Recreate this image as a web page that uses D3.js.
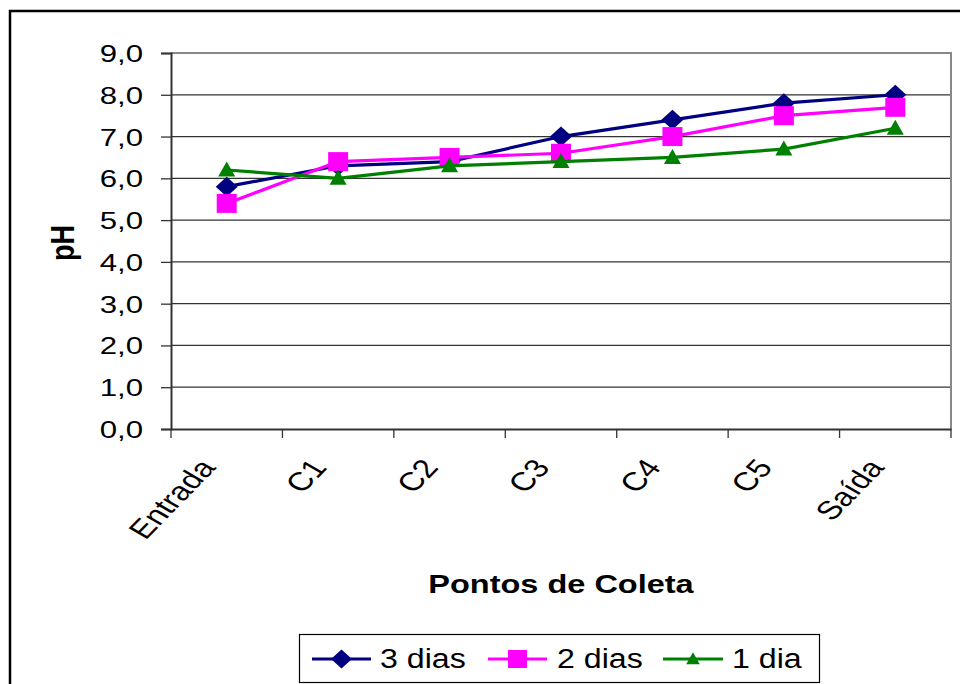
<!DOCTYPE html>
<html><head><meta charset="utf-8">
<script src="https://cdn.jsdelivr.net/npm/d3@7"></script>
<style>body{margin:0;background:#fff}svg{display:block}text{font-family:"Liberation Sans",Arial,sans-serif;fill:#000}</style>
</head><body><svg id="c" width="960" height="684"></svg>
<script>
const categories = ["Entrada","C1","C2","C3","C4","C5","Saída"];
const dias3 = [5.8,6.3,6.4,7.0,7.4,7.8,8.0];
const dias2 = [5.4,6.4,6.5,6.6,7.0,7.5,7.7];
const dia1  = [6.2,6.0,6.3,6.4,6.5,6.7,7.2];
const seriesNames = ["3 dias","2 dias","1 dia"];
const yTicks = [0,1,2,3,4,5,6,7,8,9];
const yTitle = "pH";
const xTitle = "Pontos de Coleta";

const SX = 1.3;
const svg = d3.select("#c");
svg.append("rect").attr("width",960).attr("height",684).attr("fill","#fff");
svg.append("rect").attr("x",10).attr("y",11).attr("width",980).attr("height",700)
  .attr("fill","none").attr("stroke","#000").attr("stroke-width",2.5);

const L=171,R=951,T=53,B=429;
const x = d3.scaleBand().domain(categories).range([L,R]).padding(0);
const y = d3.scaleLinear().domain([0,9]).range([B,T]);
const cx = c => x(c)+x.bandwidth()/2;

// gridlines
svg.append("g").selectAll("line").data(yTicks.filter(d=>d>0&&d<9)).join("line")
  .attr("x1",L).attr("x2",R).attr("y1",d=>y(d)).attr("y2",d=>y(d))
  .attr("stroke","#333").attr("stroke-width",1.3);
// plot border top/right
svg.append("path").attr("d",`M${L},${y(9)}H${R}V${B}`).attr("fill","none")
  .attr("stroke","#888").attr("stroke-width",2);

// y axis
const ya = svg.append("g").attr("transform",`translate(${L},0)`)
  .call(d3.axisLeft(y).tickValues(yTicks).tickSize(10).tickPadding(0)
    .tickFormat(d=>d.toFixed(1).replace(".",",")));
ya.select(".domain").attr("stroke","#333").attr("stroke-width",2);
ya.selectAll(".tick line").attr("stroke","#333").attr("stroke-width",1.3);
ya.selectAll(".tick text").attr("x",0).attr("dy",null).attr("dominant-baseline",null)
  .attr("font-size",24).attr("text-anchor","end")
  .attr("transform",`translate(-28,8.5) scale(${SX},1)`);

// x axis
const xa = svg.append("g").attr("transform",`translate(0,${B})`)
  .call(d3.axisBottom(x).tickSize(0).tickPadding(0));
xa.select(".domain").attr("stroke","#333").attr("stroke-width",2);
xa.selectAll(".tick text").attr("y",0).attr("dy",null).attr("font-size",26)
  .attr("text-anchor","end")
  .attr("transform",`translate(-10,39) scale(${SX},1) rotate(-53)`);
svg.append("g").selectAll("line").data([...categories.map(c=>x(c)),R]).join("line")
  .attr("x1",d=>d).attr("x2",d=>d).attr("y1",B).attr("y2",B+9)
  .attr("stroke","#333").attr("stroke-width",1.3);

// titles
svg.append("text").attr("font-size",25).attr("font-weight","bold").attr("text-anchor","middle")
  .attr("transform",`translate(561,593) scale(${SX},1)`).text(xTitle);
svg.append("text").attr("font-size",27).attr("font-weight","bold").attr("text-anchor","middle")
  .attr("transform",`translate(74,243) scale(1.2,1) rotate(-90)`).text(yTitle);

// series
const colors = ["#000080","#FF00FF","#008000"];
const data = [dias3,dias2,dia1];
const shapes = [
  s=>`M0,${-10*s}L${11*s},0L0,${10*s}L${-11*s},0Z`,
  s=>`M${-10*s},${-9.5*s}H${10*s}V${9.5*s}H${-10*s}Z`,
  s=>`M0,${-8.5*s}L${8.5*s},${6.5*s}L${-8.5*s},${6.5*s}Z`
];
const line = d3.line().x((d,i)=>cx(categories[i])).y(d=>y(d));
data.forEach((vals,k)=>{
  const g = svg.append("g");
  g.append("path").datum(vals).attr("d",line).attr("fill","none")
    .attr("stroke",colors[k]).attr("stroke-width",3.2);
  g.selectAll("path.m").data(vals).join("path").attr("class","m")
    .attr("transform",(d,i)=>`translate(${cx(categories[i])},${y(d)})`)
    .attr("d",shapes[k](1)).attr("fill",colors[k]);
});

// legend
svg.append("rect").attr("x",299.5).attr("y",634.5).attr("width",520).attr("height",48)
  .attr("fill","#fff").attr("stroke","#000").attr("stroke-width",1.2);
const leg = [{x1:312,x2:371,tx:380},{x1:488,x2:547,tx:557},{x1:663,x2:723,tx:732}];
const legScale=[0.95,0.95,0.8];
leg.forEach((p,k)=>{
  svg.append("line").attr("x1",p.x1).attr("x2",p.x2).attr("y1",659).attr("y2",659)
    .attr("stroke",colors[k]).attr("stroke-width",3.2);
  svg.append("path").attr("transform",`translate(${(p.x1+p.x2)/2},659)`)
    .attr("d",shapes[k](legScale[k])).attr("fill",colors[k]);
  svg.append("text").attr("font-size",27).attr("transform",`translate(${p.tx},668) scale(1.19,1)`)
    .text(seriesNames[k]);
});
</script></body></html>
